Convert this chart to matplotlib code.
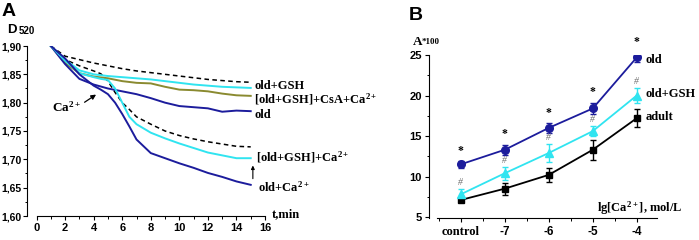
import matplotlib
matplotlib.use("Agg")
import matplotlib.pyplot as plt
from matplotlib.ticker import MultipleLocator, FixedLocator

plt.rcParams['mathtext.fontset'] = 'custom'
plt.rcParams['mathtext.rm'] = 'Liberation Serif:bold'
plt.rcParams['mathtext.it'] = 'Liberation Serif:bold'
plt.rcParams['mathtext.bf'] = 'Liberation Serif:bold'

# ---------------- Panel A data ----------------
t_gsh_dash = [1, 2, 3, 4, 5, 6, 7, 8, 9, 10, 11, 12, 13, 14, 15]
d_gsh_dash = [1.900, 1.882, 1.876, 1.870, 1.865, 1.860, 1.856, 1.853, 1.850, 1.847, 1.844, 1.841, 1.839, 1.837, 1.836]

t_ca_dash = [1, 2, 3, 4, 4.5, 5, 5.5, 6, 6.5, 7, 8, 9, 10, 11, 12, 13, 14, 15]
d_ca_dash = [1.900, 1.876, 1.865, 1.856, 1.851, 1.838, 1.818, 1.800, 1.788, 1.775, 1.762, 1.750, 1.742, 1.736, 1.731, 1.727, 1.723, 1.722]

t_gsh = [1, 2, 3, 4, 5, 6, 7, 8, 9, 10, 11, 12, 13, 14, 15]
d_gsh = [1.900, 1.876, 1.857, 1.850, 1.847, 1.845, 1.843, 1.841, 1.838, 1.835, 1.832, 1.830, 1.828, 1.827, 1.826]

t_csa = [1, 2, 3, 4, 5, 6, 7, 8, 9, 10, 11, 12, 13, 14, 15]
d_csa = [1.900, 1.870, 1.852, 1.846, 1.843, 1.838, 1.835, 1.834, 1.828, 1.823, 1.822, 1.820, 1.816, 1.813, 1.812]

t_old = [1, 2, 3, 4, 5, 6, 7, 8, 9, 10, 11, 12, 13, 14, 15]
d_old = [1.900, 1.868, 1.842, 1.832, 1.825, 1.820, 1.815, 1.808, 1.800, 1.794, 1.792, 1.790, 1.784, 1.786, 1.785]

t_gsh_ca = [1, 2, 3, 4, 4.5, 5, 5.5, 6, 6.5, 7, 8, 9, 10, 11, 12, 13, 14, 15]
d_gsh_ca = [1.900, 1.874, 1.852, 1.845, 1.842, 1.840, 1.825, 1.800, 1.775, 1.762, 1.747, 1.737, 1.728, 1.720, 1.712, 1.707, 1.702, 1.702]

t_old_ca = [1, 2, 3, 4, 4.5, 5, 5.5, 6, 6.5, 7, 8, 9, 10, 11, 12, 13, 14, 15]
d_old_ca = [1.900, 1.878, 1.850, 1.830, 1.823, 1.815, 1.800, 1.780, 1.758, 1.735, 1.711, 1.702, 1.693, 1.685, 1.676, 1.669, 1.661, 1.655]

# ---------------- Panel B data ----------------
b_cats = ["control", "-7", "-6", "-5", "-4"]
b_old = [11.5, 13.3, 16.0, 18.4, 24.7]
b_old_err = [0.4, 0.6, 0.6, 0.7, 0.6]
b_gsh = [7.8, 10.4, 12.9, 15.6, 20.0]
b_gsh_err = [0.7, 0.8, 1.1, 0.6, 0.9]
b_adult = [7.1, 8.5, 10.2, 13.3, 17.2]
b_adult_err = [0.3, 0.75, 0.9, 1.2, 1.1]

NAVY = "#1c1c9c"
CYAN = "#30e4f0"
OLIVE = "#8a8a30"

W, H = 699, 240
fig = plt.figure(figsize=(W / 100, H / 100), dpi=100)


def fx(x):
    return x / W


def fy(y):
    return 1 - y / H


SANS = "Liberation Sans"
SERIF = "Liberation Serif"
TICK_FS = 8

# ---------------- Axes A ----------------
axA = fig.add_axes([fx(27), fy(216), (265 - 27) / W, (216 - 46) / H])
axA.plot(t_gsh_dash, d_gsh_dash, color="black", lw=1.1, ls=(0, (3, 2.2)))
axA.plot(t_ca_dash, d_ca_dash, color="black", lw=1.1, ls=(0, (3, 2.2)))
axA.plot(t_gsh, d_gsh, color=CYAN, lw=1.4)
axA.plot(t_csa, d_csa, color=OLIVE, lw=1.4)
axA.plot(t_old, d_old, color=NAVY, lw=1.4)
axA.plot(t_gsh_ca, d_gsh_ca, color=CYAN, lw=1.4)
axA.plot(t_old_ca, d_old_ca, color=NAVY, lw=1.4)

axA.set_xlim(-0.67, 16)
axA.set_ylim(1.60, 1.90)
for s in ["top", "right"]:
    axA.spines[s].set_visible(False)
axA.spines["bottom"].set_bounds(0, 16)
axA.xaxis.set_minor_locator(FixedLocator(range(1, 16, 2)))
axA.yaxis.set_minor_locator(MultipleLocator(0.025))
yt = [1.60, 1.65, 1.70, 1.75, 1.80, 1.85, 1.90]
axA.set_yticks(yt)
axA.set_yticklabels([f"{v:.2f}".replace(".", ",") for v in yt])
axA.set_xticks(range(0, 17, 2))
axA.set_xticklabels([str(v) for v in range(0, 17, 2)])
axA.tick_params(which="major", direction="out", length=3, width=0.8, pad=2)
axA.tick_params(axis="y", which="major", pad=1.2)
axA.tick_params(which="minor", direction="out", length=1.8, width=0.7)
for lab in axA.get_xticklabels():
    lab.set_fontfamily(SANS)
    lab.set_fontweight("bold")
    lab.set_fontsize(TICK_FS)
for lab in axA.get_yticklabels():
    lab.set_fontfamily(SANS)
    lab.set_fontweight("bold")
    lab.set_fontsize(7.5)

# annotations A
axA.annotate("", xy=(4.33, 1.817), xytext=(3.2, 1.798),
             arrowprops=dict(arrowstyle="-|>", color="black", lw=0.9,
                             mutation_scale=7))
axA.text(3.1, 1.792, r"Ca$^{\mathrm{2+}}$", fontsize=9.5, family=SERIF,
         fontweight="bold", ha="right", va="center")
lab_kw = dict(fontsize=9, family=SERIF, fontweight="bold", va="center",
              ha="left", clip_on=False)
axA.text(15.25, 1.829, "old+GSH", **lab_kw)
axA.text(15.25, 1.806, r"[old+GSH]+CsA+Ca$^{\mathrm{2+}}$", **lab_kw)
axA.text(15.25, 1.778, "old", **lab_kw)
axA.text(15.35, 1.704, r"[old+GSH]+Ca$^{\mathrm{2+}}$", **lab_kw)
axA.text(15.5, 1.651, r"old+Ca$^{\mathrm{2+}}$", **lab_kw)
axA.annotate("", xy=(15.15, 1.694), xytext=(15.15, 1.661),
             arrowprops=dict(arrowstyle="-|>", color="black", lw=0.8,
                             mutation_scale=5), annotation_clip=False)

fig.text(fx(272), fy(214), "t,min", fontsize=9, family=SERIF,
         fontweight="bold", ha="left", va="center")
fig.text(fx(7), fy(30), "D", fontsize=9.5, family=SANS, fontweight="bold",
         ha="left", va="center")
fig.text(fx(18.5), fy(31.5), "520", fontsize=7, family=SANS,
         fontweight="bold", ha="left", va="center")
fig.text(fx(2), fy(12), "A", fontsize=14, family=SANS, fontweight="bold",
         ha="left", va="center")

# ---------------- Axes B ----------------
axB = fig.add_axes([fx(429), fy(218), (657 - 429) / W, (218 - 55) / H])
xb = list(range(len(b_cats)))
axB.errorbar(xb, b_adult, yerr=b_adult_err, color="black", marker="s",
             ms=5, lw=1.3, capsize=2, elinewidth=1, capthick=1)
axB.errorbar(xb, b_gsh, yerr=b_gsh_err, color=CYAN, marker="^",
             ms=5.5, lw=1.3, capsize=2, elinewidth=1, capthick=1)
axB.errorbar(xb, b_old, yerr=b_old_err, color=NAVY, marker="o",
             ms=5.5, lw=1.3, capsize=2, elinewidth=1, capthick=1)
for x, v, e in zip(xb, b_old, b_old_err):
    axB.text(x, v + e + 0.55, "*", fontsize=8.5, family=SERIF,
             fontweight="bold", ha="center", va="bottom")
for x, v, e in zip(xb, b_gsh, b_gsh_err):
    axB.text(x, v + e + 0.25, "#", fontsize=7, family=SERIF,
             style="italic", color="#707070", ha="center", va="bottom")

axB.set_xlim(-0.72, 4.46)
axB.set_ylim(4.88, 25)
for s in ["top", "right"]:
    axB.spines[s].set_visible(False)
axB.spines["bottom"].set_bounds(-0.54, 4.46)
axB.set_xticks(xb)
axB.set_xticklabels(b_cats)
axB.xaxis.set_minor_locator(FixedLocator([-0.5, 0.5, 1.5, 2.5, 3.5]))
axB.set_yticks([5, 10, 15, 20, 25])
axB.set_yticklabels(["5", "10", "15", "20", "25"])
axB.yaxis.set_minor_locator(MultipleLocator(2.5))
axB.tick_params(which="major", direction="out", length=3, width=0.8, pad=2)
axB.tick_params(axis="x", which="major", pad=3)
axB.tick_params(which="minor", direction="out", length=1.8, width=0.7)
for lab in axB.get_yticklabels():
    lab.set_fontfamily(SANS)
    lab.set_fontweight("bold")
    lab.set_fontsize(TICK_FS)
for i, lab in enumerate(axB.get_xticklabels()):
    lab.set_fontweight("bold")
    if i == 0:
        lab.set_fontfamily(SERIF)
        lab.set_fontsize(9)
    else:
        lab.set_fontfamily(SANS)
        lab.set_fontsize(8.5)

labB = dict(fontsize=9, family=SERIF, fontweight="bold", ha="left",
            va="center")
fig.text(fx(646), fy(60), "old", **labB)
fig.text(fx(646), fy(94), "old+GSH", **labB)
fig.text(fx(646), fy(117), "adult", **labB)
fig.text(fx(597), fy(208), r"lg[Ca$^{\mathrm{2+}}$], mol/L", **labB)
fig.text(fx(413), fy(42), "A", fontsize=9.5, family=SERIF, fontweight="bold",
         ha="left", va="center")
fig.text(fx(421.5), fy(42), "*100", fontsize=6.5, family=SERIF,
         fontweight="bold", ha="left", va="center")
fig.text(fx(409), fy(16), "B", fontsize=14, family=SANS, fontweight="bold",
         ha="left", va="center")

fig.savefig("out.png", dpi=100)
